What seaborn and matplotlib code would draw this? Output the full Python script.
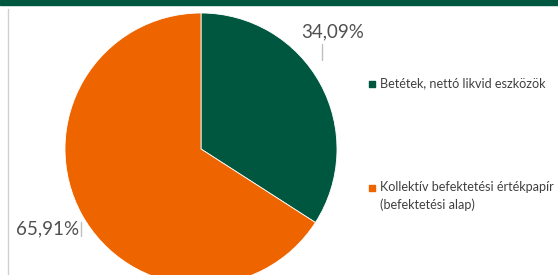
import matplotlib
matplotlib.use("Agg")
import matplotlib.pyplot as plt
import seaborn as sns

# Data
categories = ["Betétek, nettó likvid eszközök",
              "Kollektív befektetési értékpapír\n(befektetési alap)"]
shares = [34.09, 65.91]
colors = ["#00573F", "#EE6500"]

sns.set_style("white")
plt.rcParams['font.family'] = ['Lato', 'DejaVu Sans']

W, H = 558, 275
fig = plt.figure(figsize=(W / 100, H / 100), dpi=100)
ax = fig.add_axes([0, 0, 1, 1])

# pie in pixel coordinates (y up)
cx, cy, r = 201, H - 149, 136
ax.pie(shares, colors=colors, startangle=90, counterclock=False,
       center=(cx, cy), radius=r,
       wedgeprops=dict(edgecolor='white', linewidth=0.6))
ax.set_xlim(0, W)
ax.set_ylim(0, H)
ax.set_aspect('auto')
ax.axis('off')

# top bar and left rule
ax.axhspan(H - 5, H, color='#00573F', zorder=5)
ax.plot([8, 8], [0, H - 9], color='#d0d0d0', lw=1, zorder=1)

# percentage labels with short leader lines
lab_pos = [((333, H - 32), (322, H - 44), (322, H - 60)),
           ((48, H - 229), (81, H - 222), (81, H - 236))]
for v, (tpos, l0, l1) in zip(shares, lab_pos):
    ax.text(tpos[0], tpos[1], f"{v:.2f}".replace('.', ',') + "%",
            ha='center', va='center', fontsize=13.5, color='#505050')
    ax.plot([l0[0], l1[0]], [l0[1], l1[1]], color='#bfbfbf', lw=1)

# legend
leg_y = [H - 84, H - 188]
for lab, col, y in zip(categories, colors, leg_y):
    ax.scatter([372], [y], marker='s', s=24, color=col, zorder=6)
    ax.text(380, y + 7 if '\n' in lab else y + 1, lab, ha='left',
            va='top' if '\n' in lab else 'center',
            fontsize=9.1, color='#404040', linespacing=1.5)

fig.savefig("out.png", dpi=100)
